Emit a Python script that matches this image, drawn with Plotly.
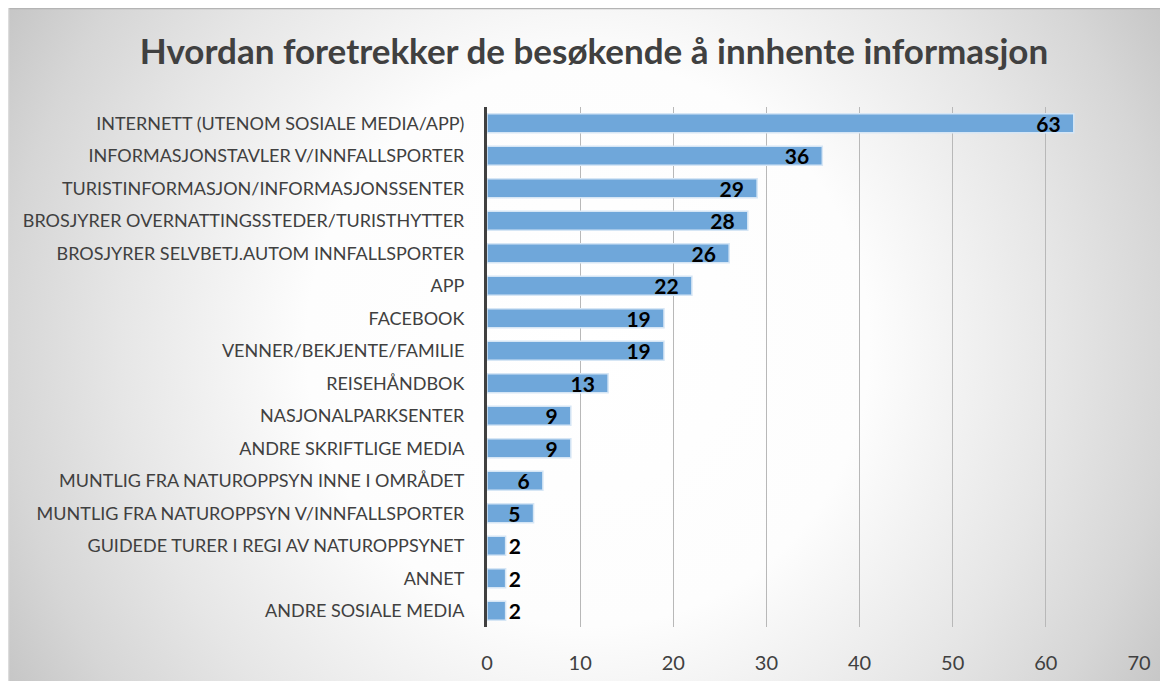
import base64
import plotly.graph_objects as go

# Kategorier (fra toppen) og antall svar
kategorier = [
    "INTERNETT (UTENOM SOSIALE MEDIA/APP)",
    "INFORMASJONSTAVLER V/INNFALLSPORTER",
    "TURISTINFORMASJON/INFORMASJONSSENTER",
    "BROSJYRER OVERNATTINGSSTEDER/TURISTHYTTER",
    "BROSJYRER SELVBETJ.AUTOM INNFALLSPORTER",
    "APP",
    "FACEBOOK",
    "VENNER/BEKJENTE/FAMILIE",
    "REISEHÅNDBOK",
    "NASJONALPARKSENTER",
    "ANDRE SKRIFTLIGE MEDIA",
    "MUNTLIG FRA NATUROPPSYN INNE I OMRÅDET",
    "MUNTLIG FRA NATUROPPSYN V/INNFALLSPORTER",
    "GUIDEDE TURER I REGI AV NATUROPPSYNET",
    "ANNET",
    "ANDRE SOSIALE MEDIA",
]
antall = [63, 36, 29, 28, 26, 22, 19, 19, 13, 9, 9, 6, 5, 2, 2, 2]
x_ticks = [0, 10, 20, 30, 40, 50, 60, 70]

# siden har 8px marg rundt figuren
W, H = 1160, 673
ml, mr, mt, mb = 479, 29, 99, 54
pw, ph = W - ml - mr, H - mt - mb

# radial bakgrunn (hvit i midten, grå mot kantene) som svg-bilde
svg = f'''<svg xmlns="http://www.w3.org/2000/svg" width="{W}" height="{H}" viewBox="0 0 {W} {H}" preserveAspectRatio="none">
<defs><radialGradient id="g" gradientUnits="userSpaceOnUse" cx="{W/2}" cy="{H/2}" r="{((W/2)**2+(H/2)**2)**0.5}">
<stop offset="0" stop-color="#ffffff"/><stop offset="0.42" stop-color="#fdfdfd"/>
<stop offset="0.7" stop-color="#e6e6e6"/><stop offset="0.87" stop-color="#d6d6d6"/>
<stop offset="1" stop-color="#c6c6c6"/></radialGradient></defs>
<rect x="0" y="0" width="{W}" height="{H}" fill="url(#g)"/>
<line x1="0" y1="0.5" x2="{W}" y2="0.5" stroke="#b4b4b4" stroke-width="1.5"/>
<line x1="0.5" y1="0" x2="0.5" y2="{H}" stroke="#dcdcdc" stroke-width="1.5"/>
</svg>'''
bg_src = "data:image/svg+xml;base64," + base64.b64encode(svg.encode()).decode()

# korte søyler får tallet utenfor, ellers innenfor med litt luft til høyre
posisjon = ["inside" if v >= 5 else "outside" for v in antall]
etiketter = [f"{v}\u00a0\u00a0" if v >= 5 else f"{v}" for v in antall]

fig = go.Figure()
fig.add_trace(go.Bar(
    x=antall,
    y=kategorier,
    orientation="h",
    marker=dict(color="#6fa7da", line=dict(color="#d6e6f5", width=1.5)),
    text=etiketter,
    textposition=posisjon,
    insidetextanchor="end",
    textangle=0,
    constraintext="none",
    textfont=dict(family="Lato", size=21, color="#000000", weight="bold"),
    cliponaxis=False,
))

fig.update_layout(
    width=W, height=H,
    margin=dict(l=ml, r=mr, t=mt, b=mb),
    paper_bgcolor="#ffffff",
    plot_bgcolor="rgba(0,0,0,0)",
    showlegend=False,
    bargap=0.42,
    font=dict(family="Lato", color="#404040"),
    title=dict(
        text="<b>Hvordan foretrekker de besøkende å innhente informasjon</b>",
        font=dict(family="Lato", size=35, color="#404040"),
        x=586 / W, xanchor="center", xref="container",
        y=1 - 44 / H, yanchor="middle", yref="container",
    ),
    images=[dict(
        source=bg_src, xref="paper", yref="paper",
        x=-ml / pw, y=(H - mb) / ph,
        sizex=W / pw, sizey=H / ph,
        xanchor="left", yanchor="top", sizing="stretch", layer="below",
    )],
)
fig.update_xaxes(
    range=[0, 70], tickvals=x_ticks,
    showgrid=True, gridcolor="#b8b8b8", gridwidth=1,
    zeroline=False, showline=False, automargin=False,
    ticklabelstandoff=22,
    tickfont=dict(family="Lato", size=20, color="#404040"),
)
fig.update_yaxes(
    autorange="reversed", automargin=False,
    showgrid=False, showline=True, linecolor="#404040", linewidth=3,
    ticklabelstandoff=16,
    tickfont=dict(family="Lato", size=18, color="#404040"),
)

fig.write_html("out.html")
